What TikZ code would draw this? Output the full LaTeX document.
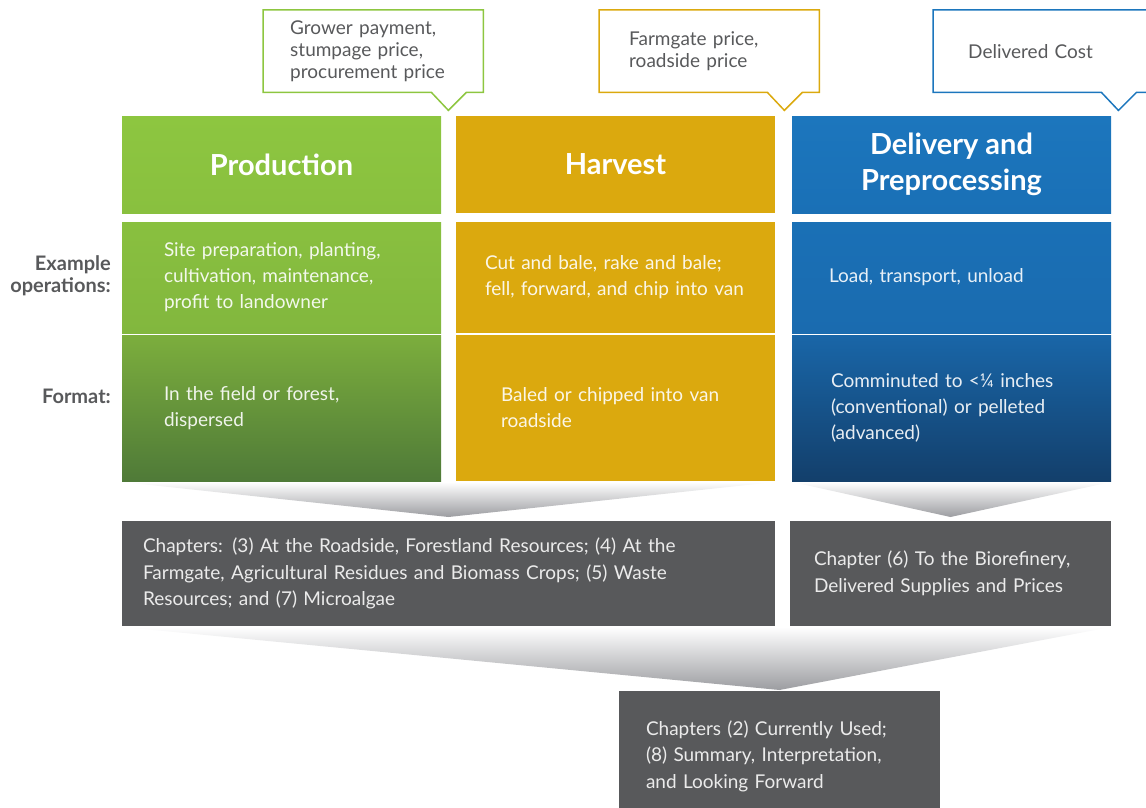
\documentclass[tikz,border=0pt]{standalone}
\usepackage{fontspec}
\setmainfont{Lato}
\usepackage{tikz}
\usetikzlibrary{positioning, calc}
\definecolor{grnA}{HTML}{8DC640}
\definecolor{grnB}{HTML}{89C03F}
\definecolor{grnC}{HTML}{82B73E}
\definecolor{grnD}{HTML}{7CAE3D}
\definecolor{grnE}{HTML}{4F7A38}
\definecolor{ylwA}{HTML}{DBA90E}
\definecolor{bluA}{HTML}{1C76BD}
\definecolor{bluB}{HTML}{1A70B6}
\definecolor{bluC}{HTML}{1A6BAF}
\definecolor{bluD}{HTML}{1966A8}
\definecolor{bluE}{HTML}{133F6B}
\definecolor{chapgray}{HTML}{58595B}
\definecolor{labelgray}{HTML}{58595B}
\definecolor{funnelgray}{HTML}{9C9DA1}
\tikzset{
  header/.style={
    rectangle, minimum width=319pt, minimum height=97pt, inner sep=0pt, outer sep=0pt,
    text=white, align=center, font=\fontsize{29}{36}\selectfont\bfseries
  },
  cell/.style={
    rectangle, minimum width=319pt, inner sep=0pt, outer sep=0pt,
    text=white, text opacity=0.9, align=left, font=\fontsize{19}{26}\selectfont
  },
  chapter/.style={
    rectangle, fill=chapgray, minimum height=105pt, inner sep=0pt, outer sep=0pt,
    text=white!88!chapgray, align=left, font=\fontsize{19}{26.5}\selectfont
  },
  calltext/.style={
    rectangle, minimum width=220pt, minimum height=82pt, inner sep=0pt,
    text=labelgray, align=left, font=\fontsize{19}{22}\selectfont
  },
  callout/.style={line width=1.5pt, line join=miter},
  rowlabel/.style={
    inner sep=0pt, align=right, text=labelgray, font=\fontsize{20}{22}\selectfont\bfseries
  },
  funnel/.style={top color=white, bottom color=funnelgray, draw=none}
}

\begin{document}
\begin{tikzpicture}[x=1pt, y=-1pt]
\useasboundingbox (0,0) rectangle (1146,808);
\clip (0,0) rectangle (1146,808);

% column headers
\node[header, anchor=north west, top color=grnA, bottom color=grnB] (prodH) at (122,116) {Production};
\node[header, right=15pt of prodH, fill=ylwA] (harvH) {Harvest};
\node[header, right=17pt of harvH, top color=bluA, bottom color=bluB] (delH) {Delivery and\\Preprocessing};

% example operations
\node[cell, below=9pt of prodH, minimum height=111pt, text width=235pt, top color=grnB, bottom color=grnC] (prodO)
  {Site preparation, planting,\\cultivation, maintenance,\\profit to landowner};
\node[cell, below=9pt of harvH, minimum height=111pt, text width=261pt, fill=ylwA] (harvO)
  {Cut and bale, rake and bale;\\fell, forward, and chip into van};
\node[cell, below=9pt of delH, minimum height=111pt, text width=245pt, top color=bluB, bottom color=bluC] (delO)
  {Load, transport, unload};

% format
\node[cell, below=2pt of prodO, minimum height=146pt, text width=235pt, top color=grnD, bottom color=grnE] (prodF)
  {In the field or forest,\\dispersed};
\node[cell, below=2pt of harvO, minimum height=146pt, text width=229pt, fill=ylwA] (harvF)
  {Baled or chipped into van\\roadside};
\node[cell, below=2pt of delO, minimum height=146pt, text width=241pt, top color=bluD, bottom color=bluE] (delF)
  {Comminuted to <¼ inches\\(conventional) or pelleted\\(advanced)};

% row labels
\node[rowlabel, left=11pt of prodO, yshift=2pt] (lblOps) {Example\\operations:};
\node[rowlabel, left=11pt of prodF, yshift=12pt] (lblFmt) {Format:};

% price callouts
\node[calltext, anchor=north west, text width=166pt] (prodC) at (263,10)
  {Grower payment,\\stumpage price,\\procurement price};
\node[calltext, anchor=north west, text width=160pt] (harvC) at (599,10)
  {Farmgate price,\\roadside price};
\node[calltext, anchor=north west, text width=150pt] (delC) at (933,10)
  {Delivered Cost};
\foreach \c/\col in {prodC/grnA, harvC/ylwA, delC/bluA}
  \draw[callout, draw=\col] (\c.south west) -- (\c.north west) -- (\c.north east) -- (\c.south east)
    -- ([xshift=-17pt]\c.south east) -- ([xshift=-35pt, yshift=-18pt]\c.south east)
    -- ([xshift=-52pt]\c.south east) -- cycle;

% chapter boxes
\node[chapter, anchor=north west, minimum width=653pt, text width=611pt] (chapA) at (122,521)
  {Chapters: (3) At the Roadside, Forestland Resources; (4) At the\\Farmgate, Agricultural Residues and Biomass Crops; (5) Waste\\Resources; and (7) Microalgae};
\node[chapter, right=15pt of chapA, minimum width=321pt, text width=273pt] (chapB)
  {Chapter (6) To the Biorefinery,\\Delivered Supplies and Prices};
\node[chapter, anchor=north west, minimum width=321pt, minimum height=130pt, text width=267pt] (chapC) at (619,691)
  {Chapters (2) Currently Used;\\(8) Summary, Interpretation,\\and Looking Forward};

% funnels
\shade[funnel] ([yshift=-1pt]prodF.south west) -- ([yshift=-1pt]harvF.south east) -- ([yshift=4pt]chapA.north) -- cycle;
\shade[funnel] ([yshift=-1pt]delF.south west) -- ([yshift=-1pt]delF.south east) -- ([yshift=4pt]chapB.north) -- cycle;
\shade[funnel] ([yshift=-1pt]chapA.south west) -- ([yshift=-1pt]chapB.south east) -- ([yshift=1pt]chapC.north) -- cycle;
\end{tikzpicture}
\end{document}
